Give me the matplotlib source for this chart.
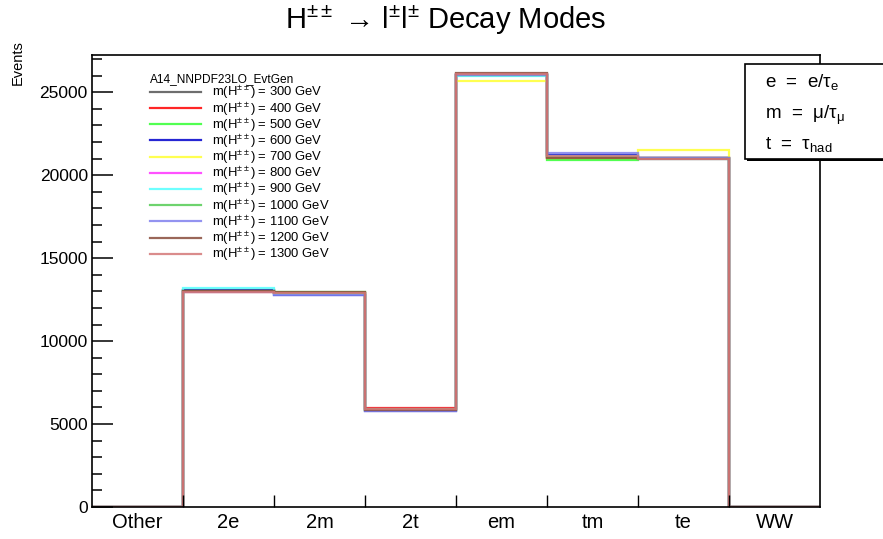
import matplotlib
matplotlib.use("Agg")
import matplotlib.pyplot as plt
from matplotlib.lines import Line2D
from matplotlib.patches import Rectangle
import numpy as np

plt.rcParams['font.family'] = ['Liberation Sans', 'DejaVu Sans']
plt.rcParams['mathtext.fontset'] = 'custom'
plt.rcParams['mathtext.rm'] = 'Liberation Sans'
plt.rcParams['mathtext.it'] = 'Liberation Sans:italic'
plt.rcParams['mathtext.sf'] = 'Liberation Sans'

categories = ["Other", "2e", "2m", "2t", "em", "tm", "te", "WW"]
masses = [300, 400, 500, 600, 700, 800, 900, 1000, 1100, 1200, 1300]
colors = ["#555555", "#ff0000", "#33ff33", "#0000cc", "#ffff33", "#ff33ff",
          "#55ffff", "#55cc55", "#8080ee", "#884c3c", "#d47878"]

m300 = [0, 13050, 12900, 5850, 26050, 21100, 21050, 0]
m400 = [0, 12950, 12880, 5950, 26100, 21050, 21070, 0]
m500 = [0, 13080, 12950, 5850, 26120, 20930, 21070, 0]
m600 = [0, 13100, 12790, 5780, 26050, 21250, 21030, 0]
m700 = [0, 13050, 12880, 5870, 25680, 21020, 21500, 0]
m800 = [0, 13000, 12900, 5900, 26080, 21100, 21020, 0]
m900 = [0, 13180, 12850, 5820, 26000, 21150, 21000, 0]
m1000 = [0, 13020, 12920, 5880, 26030, 21080, 21070, 0]
m1100 = [0, 12980, 12800, 5800, 26070, 21320, 21030, 0]
m1200 = [0, 13000, 12960, 5860, 26150, 21050, 20980, 0]
m1300 = [0, 12940, 12930, 5930, 26080, 21150, 20970, 0]
series = [m300, m400, m500, m600, m700, m800, m900, m1000, m1100, m1200, m1300]

W, H = 883, 539
fig = plt.figure(figsize=(W / 100, H / 100), dpi=100)
ax = fig.add_axes([92 / W, 1 - 507 / H, (820 - 92) / W, (507 - 55) / H])

edges = np.arange(len(categories) + 1)
for vals, c in zip(series, colors):
    ax.stairs(vals, edges, baseline=0, color=c, lw=1.6, alpha=0.85)

ax.set_xlim(0, len(categories))
ax.set_ylim(0, 27250)

ax.set_xticks(edges[:-1] + 0.5)
ax.set_xticklabels(categories, fontsize=14.5)
ax.tick_params(axis='x', which='major', length=0, pad=4)
ax.set_xticks(edges[1:-1], minor=True)
ax.tick_params(axis='x', which='minor', length=9, direction='in', width=1)

ax.set_yticks(np.arange(0, 27000, 5000))
ax.set_yticks(np.arange(0, 27250, 1000), minor=True)
ax.tick_params(axis='y', which='major', length=15, direction='in', width=1.1, labelsize=12.5, pad=3)
ax.tick_params(axis='y', which='minor', length=7.5, direction='in', width=1.1)
for s in ax.spines.values():
    s.set_linewidth(1.2)

fig.text(18 / W, 1 - 40 / H, "Events", rotation=90, ha='center', va='top', fontsize=10.5)

fig.text(446 / W, 1 - 20 / H,
         "H$^{\\pm\\pm}$ \u2192 l$^{\\pm}$l$^{\\pm}$ Decay Modes",
         ha='center', va='center', fontsize=21)

handles = [Line2D([], [], color=c, lw=1.6, alpha=0.85) for c in colors]
labels = [r"m(H$^{\pm\pm}$) = %d GeV" % m for m in masses]
leg = fig.legend(handles, labels, title="A14_NNPDF23LO_EvtGen",
                 loc='upper left', bbox_to_anchor=(141 / W, 1 - 64 / H),
                 frameon=False, fontsize=9.4, title_fontsize=8.6,
                 handlelength=3.9, handletextpad=0.85, labelspacing=-0.1,
                 borderpad=0.2, alignment='left')

# right info box
box = Rectangle((745 / W, 1 - 159 / H), 150 / W, 95 / H, transform=fig.transFigure,
                facecolor='white', edgecolor='black', lw=1.2, zorder=5)
shadow = Rectangle((747 / W, 1 - 161 / H), 150 / W, 95 / H, transform=fig.transFigure,
                   facecolor='black', edgecolor='none', zorder=4)
fig.patches.extend([shadow, box])
fig.text(765 / W, 1 - 82 / H, r"e  =  e/$\mathrm{\tau}_{\mathrm{e}}$", fontsize=13.5, va='center', zorder=6)
fig.text(765 / W, 1 - 115 / H, r"m  =  $\mathrm{\mu}$/$\mathrm{\tau}_{\mathrm{\mu}}$", fontsize=13.5, va='center', zorder=6)
fig.text(765 / W, 1 - 145 / H, r"t  =  $\mathrm{\tau}_{\mathrm{had}}$", fontsize=13.5, va='center', zorder=6)

fig.savefig("out.png", dpi=100)
